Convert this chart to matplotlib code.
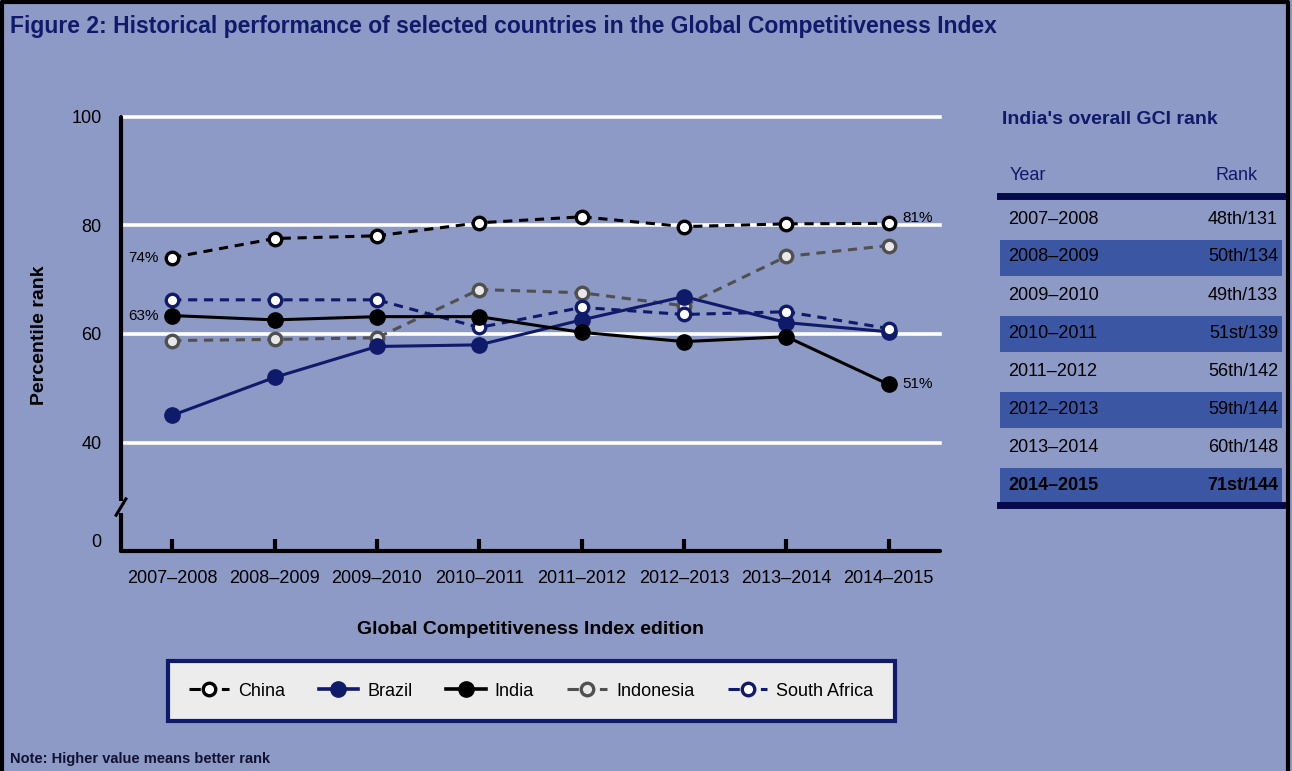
import numpy as np
import matplotlib.pyplot as plt
from matplotlib.patches import Rectangle
from matplotlib.lines import Line2D

plt.rcParams['font.family'] = ['Liberation Sans Narrow', 'Liberation Sans', 'DejaVu Sans']

# data
editions = ["2007\u20132008", "2008\u20132009", "2009\u20132010", "2010\u20132011",
            "2011\u20132012", "2012\u20132013", "2013\u20132014", "2014\u20132015"]
china = [74.1, 77.6, 78.1, 80.5, 81.6, 79.8, 80.3, 80.4]
brazil = [45.0, 52.0, 57.7, 58.0, 62.6, 66.9, 62.1, 60.4]
india = [63.4, 62.6, 63.2, 63.2, 60.3, 58.6, 59.5, 50.7]
indonesia = [58.8, 59.0, 59.3, 68.2, 67.6, 65.2, 74.3, 76.3]
south_africa = [66.3, 66.3, 66.3, 61.2, 64.9, 63.6, 64.1, 61.0]

grid_levels = [40, 60, 80, 100]
tick_values = [22, 40, 60, 80, 100]
tick_labels = ["0", "40", "60", "80", "100"]

table_years = editions
table_ranks = ["48th/131", "50th/134", "49th/133", "51st/139",
               "56th/142", "59th/144", "60th/148", "71st/144"]

BG = "#8d9ac5"
NAVY = "#0f1a6a"
ROWBLUE = "#3b56a2"
GREY = "#505050"

fig = plt.figure(figsize=(12.92, 7.71), dpi=100, facecolor=BG)
ax = fig.add_axes([121/1292, 1-551/771, (940-121)/1292, (551-117)/771])
ax.set_facecolor(BG)

x = np.arange(len(editions))

for g in grid_levels:
    ax.axhline(g, color="white", lw=2.6, zorder=1, clip_on=False)

def open_line(vals, col, face, ls, z):
    ax.plot(x, vals, color=col, ls=ls, lw=2.2, dashes=(3, 2.2), marker="o", ms=9,
            mfc=face, mec=col, mew=2.4, zorder=z)

ax.plot(x, brazil, color=NAVY, lw=2.2, marker="o", ms=11, mfc=NAVY, mec=NAVY, zorder=4)
ax.plot(x, india, color="black", lw=2.2, marker="o", ms=11, mfc="black", mec="black", zorder=5)
open_line(indonesia, GREY, "#e8e8e8", "--", 3)
open_line(south_africa, NAVY, "white", "--", 4)
open_line(china, "black", "white", "--", 6)

# value labels
lab_kw = dict(fontsize=11, color="black", va="center")
ax.text(x[0]-0.13, china[0], "74%", ha="right", **lab_kw)
ax.text(x[0]-0.13, india[0], "63%", ha="right", **lab_kw)
ax.text(x[-1]+0.13, china[-1]+1.0, "81%", ha="left", **lab_kw)
ax.text(x[-1]+0.13, india[-1], "51%", ha="left", **lab_kw)

ax.set_xlim(-0.5, 7.5)
ax.set_ylim(20, 100)
ax.set_xticks(x)
ax.set_xticklabels(editions, fontsize=13)
ax.set_yticks(tick_values)
ax.set_yticklabels(tick_labels, fontsize=13)
ax.tick_params(axis="y", length=0, pad=14)
ax.tick_params(axis="x", direction="in", length=9, width=3, pad=14, color="black")
for s in ["top", "right"]:
    ax.spines[s].set_visible(False)
ax.spines["left"].set_linewidth(3)
ax.spines["bottom"].set_linewidth(3)
ax.spines["left"].set_capstyle("round")
ax.spines["bottom"].set_capstyle("round")

# axis break on the y spine
ax.add_patch(Rectangle((-0.04, 27.0), 0.08, 2.2, transform=ax.get_yaxis_transform(),
                       facecolor=BG, edgecolor="none", clip_on=False, zorder=10))
ax.plot([-0.006, 0.006], [26.6, 29.6], transform=ax.get_yaxis_transform(),
        color="black", lw=2.2, clip_on=False, zorder=11)

ax.set_ylabel("Percentile rank", fontsize=14, fontweight="bold")
ax.yaxis.set_label_coords((48-121)/819, (551-335)/434)
ax.set_xlabel("Global Competitiveness Index edition", fontsize=14, fontweight="bold", labelpad=24)

# title and note
fig.text(10/1292, 1-26/771, "Figure 2: Historical performance of selected countries in the Global Competitiveness Index",
         fontsize=16.5, fontweight="bold", color=NAVY, va="center", ha="left")
fig.text(10/1292, 1-759/771, "Note: Higher value means better rank",
         fontsize=10.5, fontweight="bold", color="#111133", va="center", ha="left")

# legend
handles = [
    Line2D([], [], color="black", ls="--", lw=2.2, marker="o", ms=9, mfc="white", mec="black", mew=2.4),
    Line2D([], [], color=NAVY, lw=2.6, marker="o", ms=11, mfc=NAVY, mec=NAVY),
    Line2D([], [], color="black", lw=2.6, marker="o", ms=11, mfc="black", mec="black"),
    Line2D([], [], color=GREY, ls="--", lw=2.2, marker="o", ms=9, mfc="#e8e8e8", mec=GREY, mew=2.4),
    Line2D([], [], color=NAVY, ls="--", lw=2.2, marker="o", ms=9, mfc="white", mec=NAVY, mew=2.4),
]
names = ["China", "Brazil", "India", "Indonesia", "South Africa"]
leg = fig.legend(handles, names, ncol=5, loc="center",
                 bbox_to_anchor=(0.5*(173+890)/1292, 1-691/771), fontsize=13,
                 handlelength=2.2, handletextpad=0.5, columnspacing=1.85,
                 borderpad=1.2, borderaxespad=0, fancybox=False, framealpha=1)
leg.get_frame().set_facecolor("#ececec")
leg.get_frame().set_edgecolor(NAVY)
leg.get_frame().set_linewidth(3)

# India rank table
tx0, tx1 = 1000/1292, 1282/1292
fig.text(1002/1292, 1-119/771, "India's overall GCI rank", fontsize=14, fontweight="bold",
         color=NAVY, va="center", ha="left")
fig.text(1010/1292, 1-176/771, "Year", fontsize=13, color=NAVY, va="center", ha="left")
fig.text(1258/1292, 1-176/771, "Rank", fontsize=13, color=NAVY, va="center", ha="right")
fig.add_artist(Line2D([tx0, tx1], [1-196/771]*2, color="#050a4a", lw=5, transform=fig.transFigure))
row_h = 38
for i, (yr, rk) in enumerate(zip(table_years, table_ranks)):
    yc = 219 + i*row_h
    if i % 2 == 1:
        fig.add_artist(Rectangle((tx0, 1-(yc+row_h/2)/771), tx1-tx0, (row_h-2)/771,
                                 transform=fig.transFigure, facecolor=ROWBLUE, edgecolor="none"))
    wt = "bold" if i == len(table_years)-1 else "normal"
    fig.text(1008/1292, 1-yc/771, yr, fontsize=13, color="black", va="center", ha="left", fontweight=wt)
    fig.text(1278/1292, 1-yc/771, rk, fontsize=13, color="black", va="center", ha="right", fontweight=wt)
fig.add_artist(Line2D([tx0, tx1], [1-505/771]*2, color="#050a4a", lw=5, transform=fig.transFigure))

# outer frame
fig.add_artist(Line2D([2/1292, 2/1292, 1288/1292, 1288/1292], [0, 1-2/771, 1-2/771, 0],
                      color="black", lw=3, transform=fig.transFigure))

fig.savefig("out.png", dpi=100, facecolor=BG)
